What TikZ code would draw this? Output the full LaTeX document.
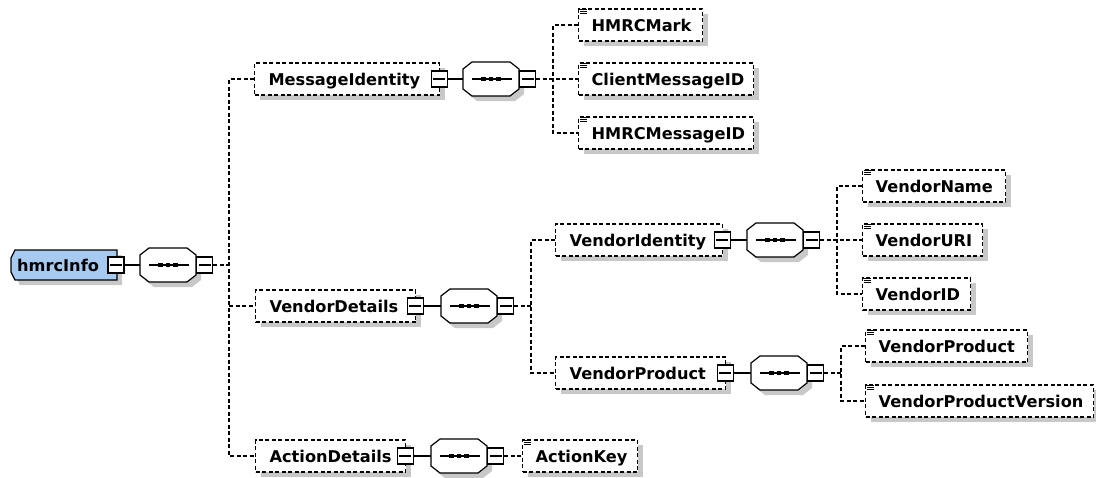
\documentclass[tikz,border=0pt]{standalone}
\usepackage{fontspec}
\setmainfont{DejaVu Sans}
\usetikzlibrary{calc,shadows}
\definecolor{elemblue}{RGB}{166,202,240}
\definecolor{shgray}{RGB}{200,200,200}
\tikzset{
  conn/.style={line width=1.2pt, line cap=butt},
  dline/.style={line width=1.2pt, dash pattern=on 4pt off 2.5pt},
  txt/.style={font=\bfseries\fontsize{16.2}{19}\selectfont, text height=12pt, text depth=0pt},
  elem/.style={txt, draw, dline, fill=white, minimum height=32pt, inner xsep=14pt, inner ysep=0pt, anchor=west,
    drop shadow={shadow xshift=5pt, shadow yshift=-5pt, fill=shgray, opacity=1}},
  leaf/.style={elem, inner xsep=13pt},
  minusbox/.style={draw, solid, line width=1.2pt, fill=white, minimum width=16pt, minimum height=16pt, inner sep=0pt,
    path picture={\draw[line width=1.2pt] ([xshift=2pt]path picture bounding box.west) -- ([xshift=-2pt]path picture bounding box.east);}},
  seqbase/.style={rectangle, minimum width=56pt, minimum height=34pt, inner sep=0pt},
}
% parent element: name x y width text
\newcommand\parentnode[5]{%
  \node[elem, minimum width=#4pt] (#1) at (#2,#3) {\makebox[\dimexpr #4pt-28pt\relax][l]{#5}};
  \node[minusbox] (#1m) at ([xshift=-1pt]#1.east) {};}
\newcommand\leafnode[5]{%
  \node[leaf, minimum width=#4pt] (#1) at (#2,#3) {\makebox[\dimexpr #4pt-26pt\relax][l]{#5}};
  \foreach \dy in {1.5,3.5,5.5}
    \draw[line width=1pt] ([shift={(2pt,-\dy pt)}]#1.north west) -- ++(7pt,0);}
% sequence compositor: name left y
\newcommand\seqnode[3]{%
  \begin{scope}[shift={(#2,#3)}]
    \fill[shgray] (14,-12) -- (52,-12) -- (61,-5) -- (61,15) -- (52,22) -- (14,22) -- (5,15) -- (5,-5) -- cycle;
    \draw[conn, fill=white] (9,-17) -- (47,-17) -- (56,-10) -- (56,10) -- (47,17) -- (9,17) -- (0,10) -- (0,-10) -- cycle;
    \draw[conn] (9,0) -- (49,0);
    \foreach \cx in {20.5,28,35.5}
      \fill (\cx-2.3,-2.3) rectangle (\cx+2.3,2.3);
  \end{scope}
  \node[seqbase] (#1) at (#2+28,#3) {};
  \node[minusbox, anchor=west] (#1m) at (#1.east) {};}

\begin{document}
\begin{tikzpicture}[x=1pt,y=-1pt]
\fill[white] (0,0) rectangle (1096,477);
\useasboundingbox (0,0) rectangle (1096,477);

% root element
\fill[shgray] (20,255) -- (122,255) -- (122,285) -- (20,285) -- (16,277) -- (16,263) -- cycle;
\draw[conn, fill=elemblue] (15,250) -- (117,250) -- (117,280) -- (15,280) -- (11,272) -- (11,258) -- cycle;
\node[txt, anchor=west, minimum width=106pt, minimum height=30pt, inner xsep=6pt, inner ysep=0pt] (root) at (11,265) {\makebox[94pt][l]{hmrcInfo}};
\node[minusbox] (rootm) at (116,265) {};
\seqnode{s1}{140}{265}
\coordinate (b1) at (229,265);

% level 1
\parentnode{mi}{254}{79}{185}{MessageIdentity}
\parentnode{vd}{255}{306}{160}{VendorDetails}
\parentnode{ad}{255}{456}{150}{ActionDetails}
\seqnode{s2}{463}{79}
\seqnode{s3}{441}{306}
\seqnode{s6}{431}{456}
\coordinate (b2) at (553,79);
\coordinate (b3) at (531,306);

% MessageIdentity children
\leafnode{hm}{578}{25}{124}{HMRCMark}
\leafnode{cm}{578}{79}{175}{ClientMessageID}
\leafnode{hmid}{578}{133}{175}{HMRCMessageID}

% VendorDetails children
\parentnode{vi}{555}{240}{167}{VendorIdentity}
\parentnode{vp}{555}{373}{170}{VendorProduct}
\seqnode{s4}{747}{240}
\seqnode{s5}{751}{373}
\coordinate (b4) at (837,240);
\coordinate (b5) at (841,373);
\leafnode{vn}{862}{186}{143}{VendorName}
\leafnode{vu}{862}{240}{120}{VendorURI}
\leafnode{vid}{862}{294}{108}{VendorID}
\leafnode{vpc}{865}{346}{162}{VendorProduct}
\leafnode{vpv}{865}{401}{228}{VendorProductVersion}

% ActionDetails child
\leafnode{ak}{522}{456}{115}{ActionKey}

% connectors
\draw[conn] (rootm.east) -- (s1.west);
\draw[conn] (mim.east) -- (s2.west);
\draw[conn] (vdm.east) -- (s3.west);
\draw[conn] (adm.east) -- (s6.west);
\draw[conn] (vim.east) -- (s4.west);
\draw[conn] (vpm.east) -- (s5.west);

\draw[dline] (s1m.east) -- (b1);
\draw[dline] (mi.west) -| (b1) |- (ad.west);
\draw[dline] (b1 |- vd.west) -- (vd.west);

\draw[dline] (hm.west) -| (b2) |- (hmid.west);
\draw[dline] (s2m.east) -- (cm.west);

\draw[dline] (s3m.east) -- (b3);
\draw[dline] (vi.west) -| (b3) |- (vp.west);

\draw[dline] (vn.west) -| (b4) |- (vid.west);
\draw[dline] (s4m.east) -- (vu.west);

\draw[dline] (s5m.east) -- (b5);
\draw[dline] (vpc.west) -| (b5) |- (vpv.west);

\draw[dline] (s6m.east) -- (ak.west);
\end{tikzpicture}
\end{document}
